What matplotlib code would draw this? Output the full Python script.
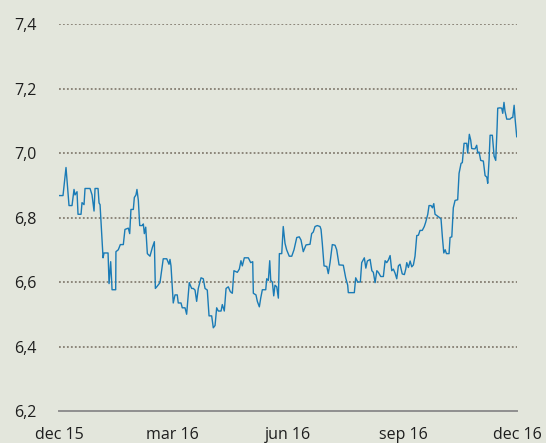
import pandas as pd
import matplotlib
matplotlib.use('Agg')
import matplotlib.pyplot as plt
import matplotlib.dates as mdates

# colours
colo_bg = '#e3e6dc'
colo_line = '#1a7bb6'
colo_grid = '#857e72'
colo_axis = '#8f8f8f'
colo_text = '#1e1e1e'

# days after 1 dec 2015
days = [0, 3.2, 5.6, 8, 10.4, 12, 12.8, 14.4, 15.2, 17.6, 18.4, 20, 20.8, 24.8, 26.4, 28,
        28.8, 31.2, 32, 32.8, 35.2, 36, 39.2, 40, 41.3, 42.1, 42.4, 45.3, 45.5, 47.4, 49,
        51.4, 52.7, 55.4, 56.5, 57.5, 59.4, 60.2, 61.5, 62.3, 63.4, 64.5, 66.6, 67.4, 68.2,
        69.3, 70.6, 72.7, 74.6, 76.2, 77, 78.1, 80.7, 83.3, 86.1, 87.9, 88.7, 89.5, 91.3,
        92.7, 94.5, 95.3, 97.5, 98.5, 100.7, 102, 104.1, 106, 107.3, 108.7, 110, 111.3,
        113.5, 115.3, 116.7, 118.5, 119.9, 122, 123.3, 124.7, 126, 127.3, 129.5, 130.5,
        132.1, 133.5, 135.3, 136.9, 138.5, 139.8, 142.5, 144.1, 145.4, 146.5, 148.1, 151.3,
        153.2, 154.8, 155.3, 157.4, 158.5, 160.1, 161.2, 162.5, 165.2, 166, 167.3, 168.4,
        169.2, 170.5, 171.6, 172.6, 174, 175.3, 176.1, 178, 179.2, 180.6, 181.9, 184, 186,
        187.8, 190, 192, 193.4, 195.2, 197.4, 200.6, 201.9, 203.2, 204.6, 206.4, 208.6,
        209.4, 210.4, 211.8, 214, 215.2, 216.6, 218.4, 220.6, 221.9, 223.8, 227.2, 229.1,
        230.7, 231.2, 236, 237.1, 238.7, 240.8, 241.9, 244, 245.2, 246.4, 248.6, 250,
        251.2, 252.6, 254, 255.2, 257.1, 259.2, 260.6, 261.9, 263.2, 264.6, 265.9, 267.2,
        268.6, 269.9, 271.2, 272.5, 274.3, 276, 277.1, 277.9, 279.2, 280.6, 281.9, 283.2,
        284.5, 285.9, 287.2, 288.5, 290.3, 291.9, 293, 294.7, 295.7, 297.3, 298.4, 299.5,
        300.5, 301.9, 304, 305.3, 306.4, 307.5, 308.6, 309.6, 311.7, 312.5, 313.9, 315.1,
        316.5, 318.6, 319.7, 321.3, 322.3, 323.7, 325.8, 326.6, 327.9, 329, 329.8, 331.1,
        332.5, 333.8, 334.6, 335.7, 337, 339.1, 340.5, 341.9, 342.6, 343.7, 344.5, 346.3,
        347.7, 349, 350.1, 350.6, 352.4, 353.8, 354.6, 355.6, 356.4, 357.8, 360.4, 361.8,
        362.6, 363.7, 364.5, 365.8, 366]

rate = [6.868, 6.868, 6.955, 6.837, 6.837, 6.887, 6.87, 6.88, 6.81, 6.81, 6.846, 6.84,
        6.89, 6.89, 6.87, 6.82, 6.89, 6.89, 6.845, 6.84, 6.675, 6.69, 6.69, 6.595, 6.663,
        6.595, 6.576, 6.576, 6.694, 6.70, 6.716, 6.716, 6.763, 6.767, 6.75, 6.825, 6.825,
        6.862, 6.87, 6.887, 6.853, 6.775, 6.775, 6.78, 6.75, 6.77, 6.688, 6.68, 6.707,
        6.725, 6.58, 6.585, 6.598, 6.672, 6.672, 6.655, 6.67, 6.65, 6.535, 6.56, 6.56,
        6.535, 6.535, 6.52, 6.52, 6.50, 6.598, 6.58, 6.58, 6.575, 6.54, 6.58, 6.613, 6.61,
        6.58, 6.575, 6.495, 6.495, 6.458, 6.465, 6.52, 6.51, 6.51, 6.53, 6.51, 6.58, 6.585,
        6.57, 6.565, 6.635, 6.63, 6.64, 6.666, 6.65, 6.675, 6.675, 6.66, 6.663, 6.565,
        6.56, 6.54, 6.523, 6.55, 6.576, 6.576, 6.61, 6.605, 6.666, 6.605, 6.60, 6.557,
        6.59, 6.585, 6.55, 6.688, 6.688, 6.772, 6.72, 6.70, 6.68, 6.68, 6.70, 6.738, 6.74,
        6.73, 6.694, 6.715, 6.717, 6.75, 6.755, 6.772, 6.775, 6.772, 6.763, 6.72, 6.65,
        6.648, 6.626, 6.66, 6.716, 6.714, 6.70, 6.653, 6.652, 6.613, 6.59, 6.567, 6.567,
        6.613, 6.60, 6.60, 6.66, 6.675, 6.643, 6.665, 6.67, 6.635, 6.63, 6.598, 6.635,
        6.63, 6.617, 6.617, 6.666, 6.66, 6.668, 6.682, 6.635, 6.64, 6.627, 6.61, 6.65,
        6.655, 6.625, 6.623, 6.64, 6.66, 6.645, 6.665, 6.647, 6.653, 6.68, 6.744, 6.745,
        6.76, 6.76, 6.772, 6.785, 6.81, 6.837, 6.837, 6.83, 6.843, 6.81, 6.806, 6.80,
        6.795, 6.738, 6.69, 6.70, 6.688, 6.688, 6.738, 6.74, 6.83, 6.853, 6.855, 6.937,
        6.968, 6.97, 7.03, 7.03, 7.0, 7.058, 7.04, 7.014, 7.013, 7.013, 7.024, 7.0, 7.003,
        6.977, 6.975, 6.93, 6.925, 6.906, 6.98, 7.055, 7.055, 6.99, 6.977, 7.08, 7.139,
        7.14, 7.139, 7.123, 7.157, 7.13, 7.105, 7.105, 7.11, 7.11, 7.148, 7.105, 7.05, 7.05]

yticks = [6.2, 6.4, 6.6, 6.8, 7.0, 7.2, 7.4]
xtick_dates = ['2015-12-01', '2016-03-01', '2016-06-01', '2016-09-01', '2016-12-01']
xtick_labels = ['dec 15', 'mar 16', 'jun 16', 'sep 16', 'dec 16']

start = pd.Timestamp('2015-12-01')
dates = start + pd.to_timedelta(days, unit='D')

plt.rcParams['font.family'] = ['Open Sans', 'DejaVu Sans']

fig = plt.figure(figsize=(5.46, 4.43), dpi=100)
fig.set_facecolor(colo_bg)
ax = fig.add_axes([59/546, 1 - 411/443, (517 - 59)/546, (411 - 24)/443])
ax.set_facecolor(colo_bg)

# dotted grid lines
for yv in yticks[1:]:
    ax.axhline(yv, color=colo_grid, linestyle=(0, (1, 1.2)), linewidth=1.3, zorder=1)

ax.plot(dates, rate, color=colo_line, linewidth=1.0, zorder=3)

ax.set_ylim(6.2, 7.4)
ax.set_xlim(pd.Timestamp(xtick_dates[0]), pd.Timestamp(xtick_dates[-1]))

ax.set_yticks(yticks)
ax.set_yticklabels([f'{v:.1f}'.replace('.', ',') for v in yticks], color=colo_text, fontsize=11.5)
ax.tick_params(axis='y', length=0, pad=16)

ax.set_xticks([pd.Timestamp(d) for d in xtick_dates])
ax.set_xticklabels(xtick_labels, color=colo_text, fontsize=11.5)
ax.tick_params(axis='x', which='major', length=0, pad=11.5)
# small end ticks only
ax.set_xticks([pd.Timestamp(xtick_dates[0]), pd.Timestamp(xtick_dates[-1])], minor=True)
ax.tick_params(axis='x', which='minor', length=3, width=1.2, color=colo_axis, direction='out')

for side in ['top', 'right', 'left']:
    ax.spines[side].set_visible(False)
ax.spines['bottom'].set_color(colo_axis)
ax.spines['bottom'].set_linewidth(1.4)

plt.savefig('out.png', dpi=100, facecolor=colo_bg)
